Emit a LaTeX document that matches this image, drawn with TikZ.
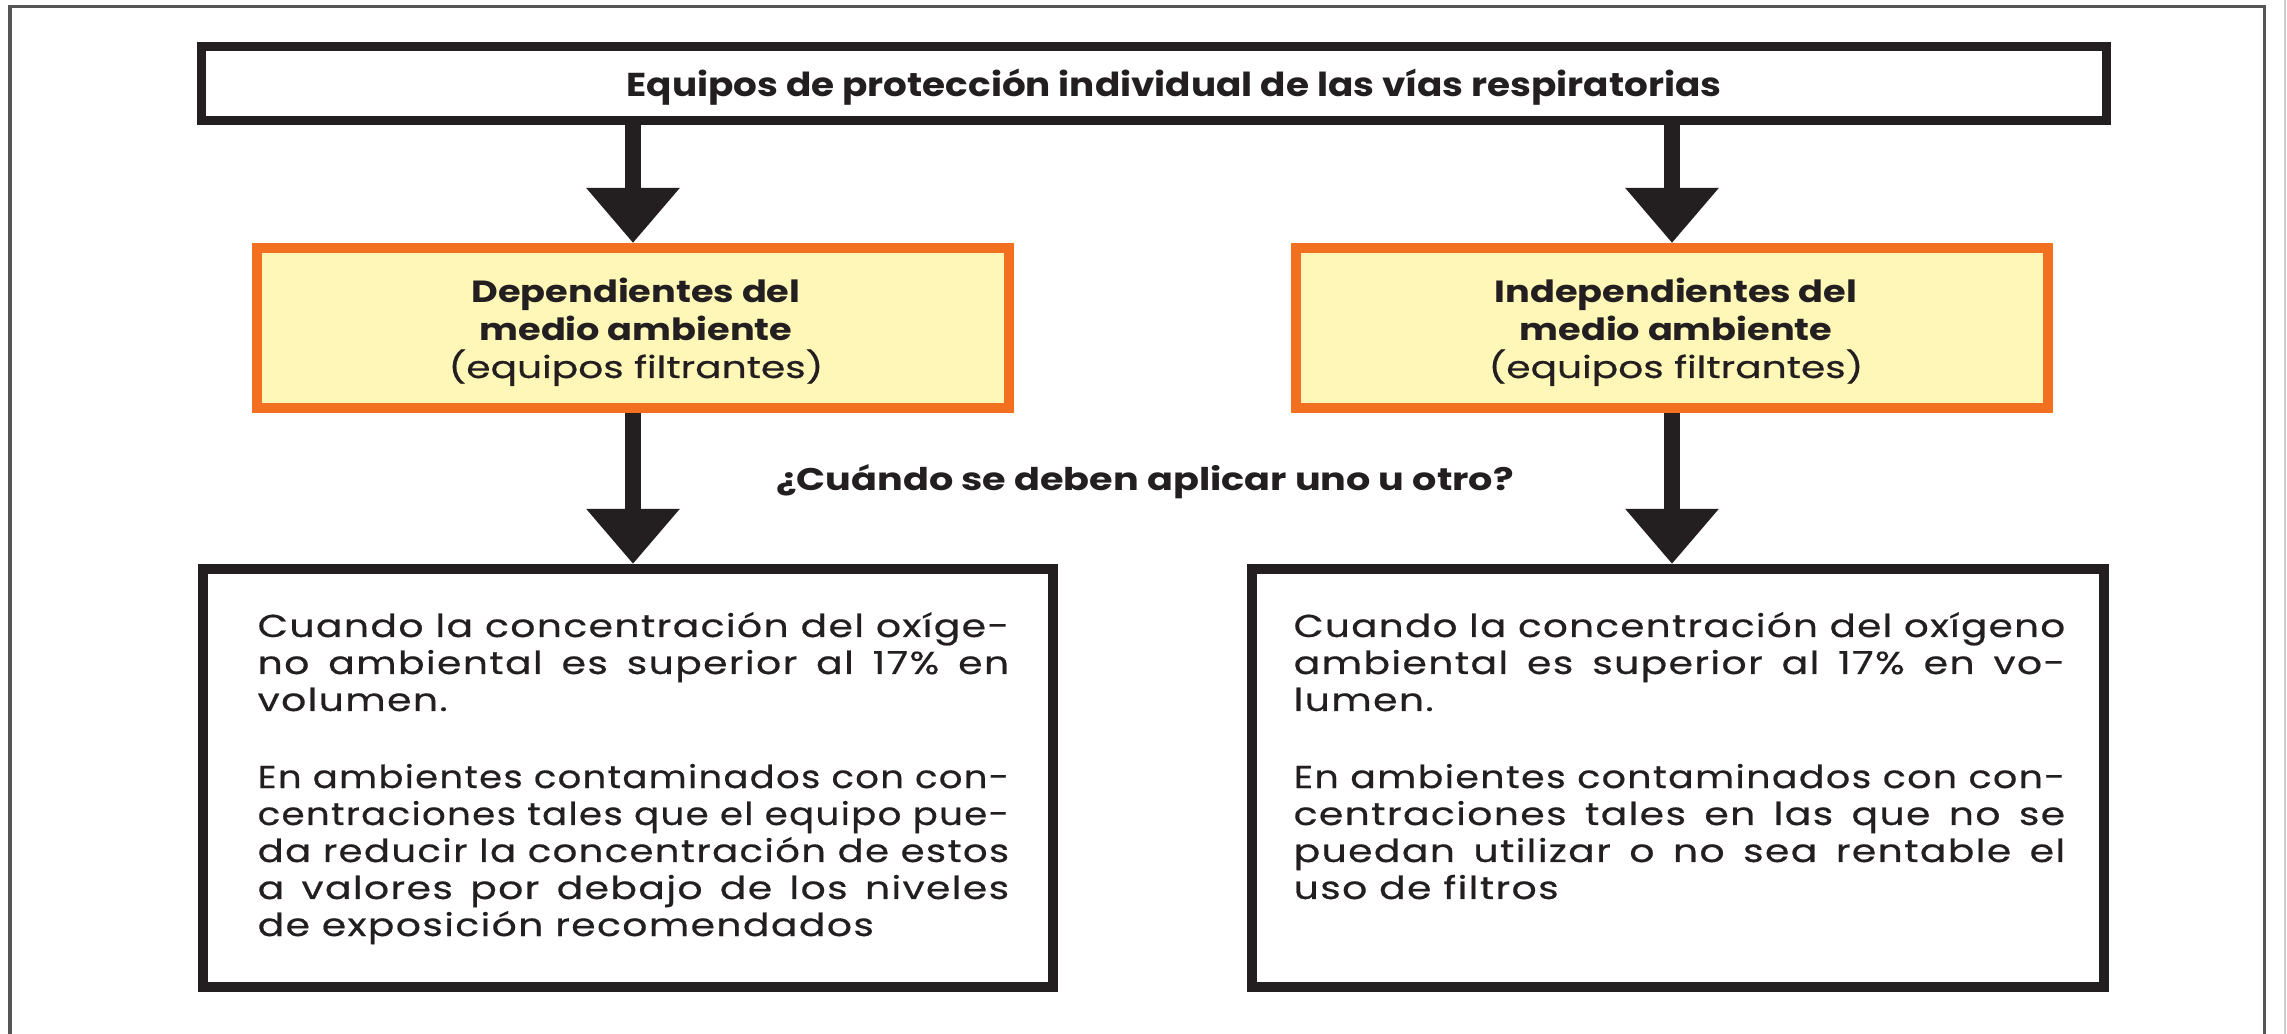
\documentclass[tikz,border=0pt]{standalone}
\usepackage{fontspec}
\usepackage{graphicx}
\setmainfont{Poppins}
\newfontfamily\bodyfont[FakeStretch=1.24,LetterSpace=4.5,FakeBold=0.6]{Poppins}
\newfontfamily\titlefont[FakeStretch=1.13]{Poppins}
\newfontfamily\yelfont[FakeStretch=1.2]{Poppins}
\newfontfamily\yelregfont[FakeStretch=1.28,FakeBold=0.6]{Poppins}
\newfontfamily\qfont[FakeStretch=1.22]{Poppins}
\usetikzlibrary{arrows.meta}
\definecolor{ink}{HTML}{231F20}
\definecolor{orng}{HTML}{F37021}
\definecolor{ylw}{HTML}{FFF7B7}
\definecolor{framegray}{HTML}{555555}
\newlength{\jlw}
\newcommand{\jl}[2]{\settowidth{\jlw}{#2}\ifdim\jlw>#1\relax\resizebox{#1}{\height}{#2}\else\makebox[#1][s]{#2}\fi}
\tikzset{
  blackbox/.style={draw=ink, line width=0.1cm, fill=white, inner sep=0pt},
  yellowbox/.style={draw=orng, line width=0.1cm, fill=ylw, inner sep=0pt, minimum width=7.52cm, minimum height=1.6cm},
  titletxt/.style={inner sep=0pt, anchor=base, text=ink, font=\titlefont\bfseries\fontsize{9.4pt}{11pt}\selectfont},
  headtxt/.style={inner sep=0pt, anchor=base, text=ink, font=\yelfont\bfseries\fontsize{8.7pt}{11pt}\selectfont},
  headreg/.style={inner sep=0pt, anchor=base, text=ink, font=\yelregfont\fontsize{8.7pt}{11pt}\selectfont},
  qtxt/.style={inner sep=0pt, anchor=base, text=ink, font=\qfont\bfseries\fontsize{8.9pt}{11pt}\selectfont},
  bodyline/.style={inner sep=0pt, anchor=base west, text=ink, font=\bodyfont\fontsize{9pt}{10pt}\selectfont},
  arr/.style={draw=ink, line width=0.16cm, -{Triangle[length=0.55cm,width=0.9cm]}},
}
\begin{document}
\begin{tikzpicture}[x=0.01cm,y=-0.01cm]
\useasboundingbox (0,0) rectangle (2287,1034);
\fill[white] (0,0) rectangle (2287,1034);
% page frame
\draw[framegray, line width=0.03cm] (10,1034) -- (10,7) -- (2264,7) -- (2264,1034);
\draw[gray!40, line width=0.02cm] (2285,0) -- (2285,1034);

% boxes
\node[blackbox, line width=0.09cm, minimum width=19.03cm, minimum height=0.74cm] (title) at (1154,83.5) {};
\node[yellowbox] (dep) at (633,328) {};
\node[yellowbox] (indep) at (1672,328) {};
\node[blackbox, minimum width=8.5cm, minimum height=4.18cm] (bl) at (628,778) {};
\node[blackbox, minimum width=8.51cm, minimum height=4.18cm] (br) at (1678,778) {};

% arrows
\draw[arr] (title.south -| dep.north) -- (dep.north);
\draw[arr] (title.south -| indep.north) -- (indep.north);
\draw[arr] (dep.south) -- (dep.south |- bl.north);
\draw[arr] (indep.south) -- (indep.south |- br.north);

% texts
\node[titletxt] (ttl) at (1174,97) {Equipos de protección individual de las vías respiratorias};
\node[headtxt] (dep1) at (636,303) {Dependientes del};
\node[headtxt] (dep2) at (636,341) {medio ambiente};
\node[headreg] (dep3) at (636,378) {(equipos filtrantes)};
\node[headtxt] (ind1) at (1676,303) {Independientes del};
\node[headtxt] (ind2) at (1676,341) {medio ambiente};
\node[headreg] (ind3) at (1676,378) {(equipos filtrantes)};
\node[qtxt] (q) at (1145,491) {¿Cuándo se deben aplicar uno u otro?};

% left body
\node[bodyline] (l1) at (257,637) {\jl{7.51cm}{Cuando la concentración del oxíge-}};
\node[bodyline] (l2) at (257,674) {\jl{7.51cm}{no ambiental es superior al 17\% en}};
\node[bodyline] (l3) at (257,711) {volumen.};
\node[bodyline] (l5) at (257,788) {\jl{7.51cm}{En ambientes contaminados con con-}};
\node[bodyline] (l6) at (257,825) {\jl{7.51cm}{centraciones tales que el equipo pue-}};
\node[bodyline] (l7) at (257,862) {\jl{7.51cm}{da reducir la concentración de estos}};
\node[bodyline] (l8) at (257,899) {\jl{7.51cm}{a valores por debajo de los niveles}};
\node[bodyline] (l9) at (257,936) {de exposición recomendados};

% right body
\node[bodyline] (r1) at (1293,637) {\jl{7.71cm}{Cuando la concentración del oxígeno}};
\node[bodyline] (r2) at (1293,674) {\jl{7.71cm}{ambiental es superior al 17\% en vo-}};
\node[bodyline] (r3) at (1293,711) {lumen.};
\node[bodyline] (r5) at (1293,788) {\jl{7.71cm}{En ambientes contaminados con con-}};
\node[bodyline] (r6) at (1293,825) {\jl{7.71cm}{centraciones tales en las que no se}};
\node[bodyline] (r7) at (1293,862) {\jl{7.71cm}{puedan utilizar o no sea rentable el}};
\node[bodyline] (r8) at (1293,899) {uso de filtros};
\end{tikzpicture}
\end{document}
